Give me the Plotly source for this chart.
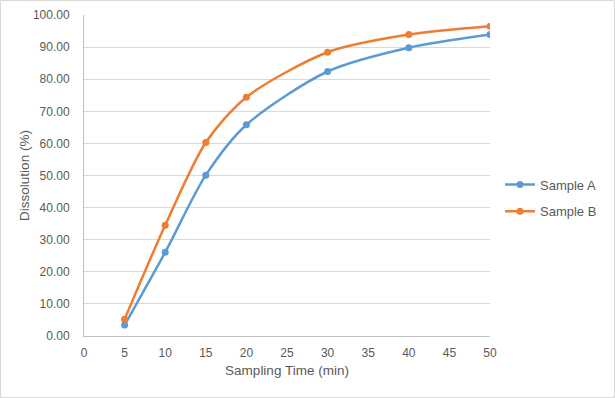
import plotly.graph_objects as go

time_min = [5, 10, 15, 20, 30, 40, 50]
sample_a = [3.4, 26.1, 50.1, 65.8, 82.4, 89.8, 93.9]
sample_b = [5.2, 34.5, 60.3, 74.4, 88.4, 93.9, 96.5]

W, H = 615, 398
L, R, T, B = 84, 125, 15, 62
pw, ph = W - L - R, H - T - B

fig = go.Figure()
fig.add_trace(go.Scatter(x=time_min, y=sample_a, name="Sample A", mode="lines+markers",
                         legendgroup="a",
                         line=dict(color="#5b9bd5", width=2.5, shape="spline", smoothing=0.8),
                         marker=dict(size=7, color="#5b9bd5")))
fig.add_trace(go.Scatter(x=time_min, y=sample_b, name="Sample B", mode="lines+markers",
                         legendgroup="b",
                         line=dict(color="#ed7d31", width=2.5, shape="spline", smoothing=0.8),
                         marker=dict(size=7, color="#ed7d31")))

font = "Liberation Sans, Arial, sans-serif"
fig.update_layout(
    width=W, height=H, autosize=False,
    margin=dict(l=L, r=R, t=T, b=B, pad=0),
    paper_bgcolor="white", plot_bgcolor="white",
    font=dict(family=font, color="#595959", size=12),
    showlegend=True,
    legend=dict(x=(500 - L) / pw, y=(336 - 198) / ph, xanchor="left", yanchor="middle",
                font=dict(size=13, color="#595959"), bgcolor="rgba(0,0,0,0)",
                itemwidth=30, tracegroupgap=7, traceorder="grouped"),
    xaxis=dict(range=[0, 50], dtick=5, tick0=0, showgrid=False, zeroline=False,
               automargin=False,
               showline=True, linecolor="#bfbfbf", linewidth=1, ticks="",
               ticklabelstandoff=6,
               tickfont=dict(size=12, color="#595959"),
               title=dict(text="Sampling Time (min)", font=dict(size=13.5, color="#595959"), standoff=6)),
    yaxis=dict(range=[0, 100], dtick=10, tickformat=".2f", showgrid=True, gridcolor="#d9d9d9",
               automargin=False,
               gridwidth=1, zeroline=False, showline=True, linecolor="#bfbfbf", linewidth=1,
               ticks="", ticklabelstandoff=11, tickfont=dict(size=12, color="#595959"),
               title=dict(text="Dissolution (%)", font=dict(size=13.5, color="#595959"), standoff=0)),
)

fig.add_shape(type="rect", xref="paper", yref="paper",
              x0=(0.5 - L) / pw, x1=(W - 0.5 - L) / pw,
              y0=(0.5 - B) / ph, y1=(H - B - 0.5) / ph,
              line=dict(color="#d9d9d9", width=1), layer="below")

fig.write_html("out.html", config={"displayModeBar": False, "responsive": False},
               post_script="document.body.style.margin='0';document.body.style.padding='0';document.body.style.overflow='hidden';")
